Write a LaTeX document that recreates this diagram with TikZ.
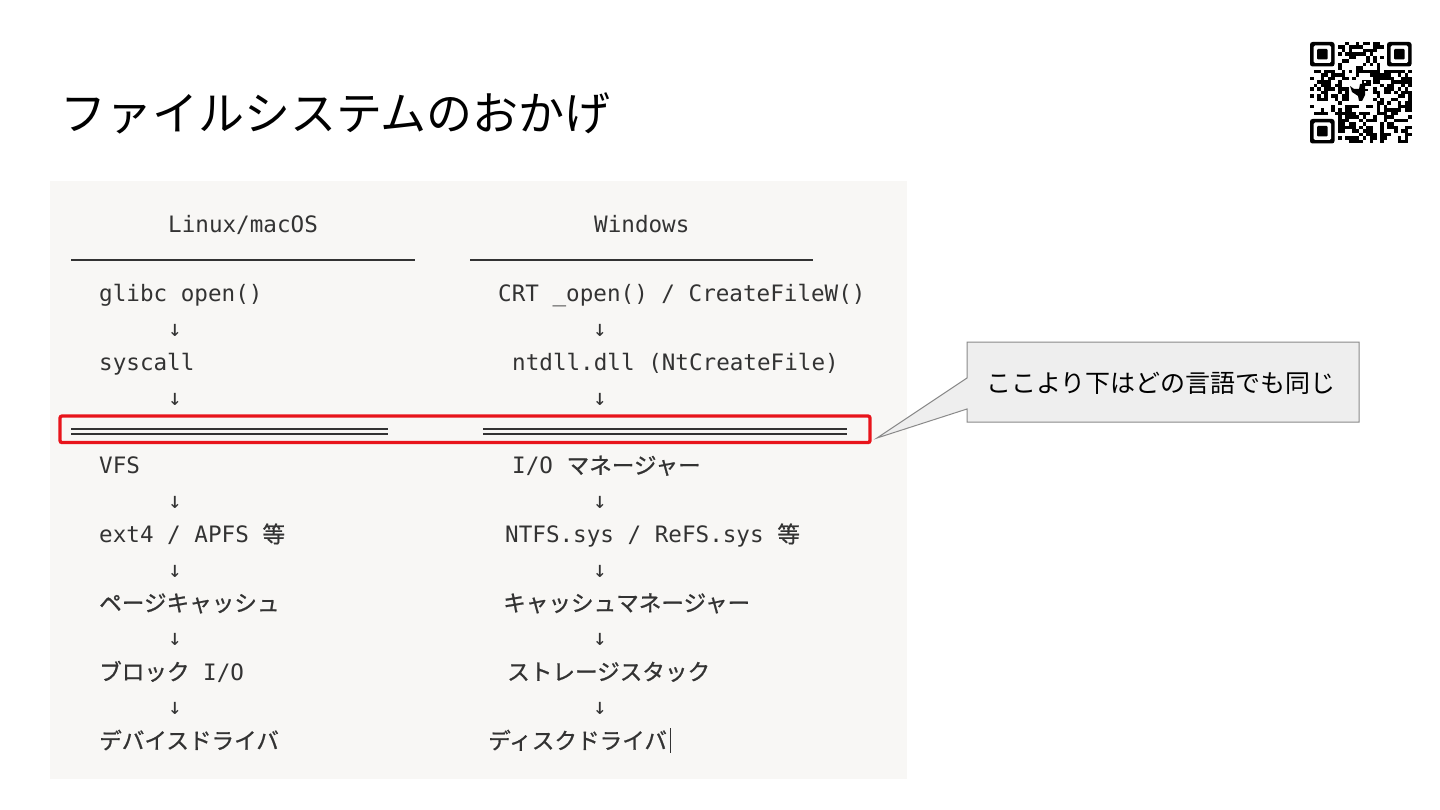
\documentclass[tikz,border=0pt]{standalone}
\usepackage{fontspec}
\setmonofont{DejaVu Sans Mono}
\newfontfamily\jp{Noto Sans CJK JP}
\newfontfamily\jpc[FakeBold=0.8]{Noto Sans CJK JP}
\newcommand\J[1]{{\jpc #1}}
\definecolor{codebg}{HTML}{F8F7F5}
\definecolor{codefg}{HTML}{333333}
\definecolor{hired}{HTML}{E8141B}
\definecolor{notebg}{HTML}{EEEEEE}
\definecolor{noteline}{HTML}{8A8A8A}
\tikzset{
  code/.style={inner sep=0pt, anchor=base west, text=codefg, font=\ttfamily\fontsize{22.6}{27}\selectfont},
  arr/.style={inner sep=0pt, anchor=base, text=codefg, font=\ttfamily\fontsize{22.6}{27}\selectfont},
  rule/.style={draw=codefg, line width=1.9pt},
  dbl/.style={draw=codefg, line width=1.8pt},
  qr/.style={fill=black},
}
\begin{document}
\begin{tikzpicture}[x=1pt,y=-1pt]
\useasboundingbox[fill=white] (0,0) rectangle (1440,810);
% title
\node[inner sep=0pt, anchor=base west, font=\jp\fontsize{46}{55}\selectfont] (title) at (60,131) {ファイルシステムのおかげ};
% code block background
\fill[codebg] (50,181) rectangle (907,779);
% headers
\node[code] (hl) at (168,233) {Linux/macOS};
\node[code] (hr) at (594,233) {Windows};
\draw[rule] (71,260) -- (415,260);
\draw[rule] (470,260) -- (813,260);
% left column
\node[code] (l1) at (99,301.8) {glibc open()};
\node[arr] (la1) at (175,336.2) {↓};
\node[code] (l2) at (99,370.6) {syscall};
\node[arr] (la2) at (175,405) {↓};
\node[code] (l3) at (99,473.8) {VFS};
\node[arr] (la3) at (175,508.2) {↓};
\node[code] (l4) at (99,542.6) {ext4 / APFS \J{等}};
\node[arr] (la4) at (175,577) {↓};
\node[code] (l5) at (99,611.4) {\J{ページキャッシュ}};
\node[arr] (la5) at (175,645.8) {↓};
\node[code] (l6) at (99,680.2) {\J{ブロック} I/O};
\node[arr] (la6) at (175,714.6) {↓};
\node[code] (l7) at (99,749) {\J{デバイスドライバ}};
% right column
\node[code] (r1) at (498,301.8) {CRT \_open() / CreateFileW()};
\node[arr] (ra1) at (600,336.2) {↓};
\node[code] (r2) at (512,370.6) {ntdll.dll (NtCreateFile)};
\node[arr] (ra2) at (600,405) {↓};
\node[code] (r3) at (512,473.8) {I/O \J{マネージャー}};
\node[arr] (ra3) at (600,508.2) {↓};
\node[code] (r4) at (505,542.6) {NTFS.sys / ReFS.sys \J{等}};
\node[arr] (ra4) at (600,577) {↓};
\node[code] (r5) at (503,611.4) {\J{キャッシュマネージャー}};
\node[arr] (ra5) at (600,645.8) {↓};
\node[code] (r6) at (507,680.2) {\J{ストレージスタック}};
\node[arr] (ra6) at (600,714.6) {↓};
\node[code] (r7) at (488,749) {\J{ディスクドライバ}};
\draw[codefg, line width=1pt] (670.5,728) -- (670.5,753);
% double rules
\draw[dbl] (71,429) -- (388,429);
\draw[dbl] (71,434) -- (388,434);
\draw[dbl] (483,429) -- (847,429);
\draw[dbl] (483,434) -- (847,434);
% red highlight
\node[draw=hired, line width=3.3pt, rounded corners=2pt, minimum width=810pt, minimum height=26.5pt, inner sep=0pt] (hl box) at (465,429.3) {};
% callout
\coordinate (tip) at (877,438);
\filldraw[fill=notebg, draw=noteline, line width=1pt] (967,342) -- (1359,342) -- (1359,422) -- (967,422) -- (967,409) -- (tip) -- (967,378) -- cycle;
\node[inner sep=0pt, font=\jp\fontsize{25}{30}\selectfont] (note) at (1161,383) {ここより下はどの言語でも同じ};
% QR code
\pgfmathsetseed{12345}
\def\qx{1310}\def\qy{42}\def\qm{3.5}
\foreach \i in {0,...,28}{
  \foreach \j in {0,...,28}{
    \pgfmathtruncatemacro\qskipit{((\i<8)&&(\j<8)) || ((\i>20)&&(\j<8)) || ((\i<8)&&(\j>20)) || ((\i>10)&&(\i<18)&&(\j>10)&&(\j<18))}
    \pgfmathtruncatemacro\qon{rnd<0.5}
    \ifnum\qskipit=0 \ifnum\qon=1
      \fill[qr] (\qx+\i*\qm,\qy+\j*\qm) rectangle ++(\qm,\qm);
    \fi\fi
  }
}
\foreach \fx/\fy in {0/0,22/0,0/22}{
  \fill[qr, rounded corners=2.5pt] (\qx+\fx*\qm,\qy+\fy*\qm) rectangle ++(7*\qm,7*\qm);
  \fill[white, rounded corners=1.5pt] (\qx+\fx*\qm+\qm,\qy+\fy*\qm+\qm) rectangle ++(5*\qm,5*\qm);
  \fill[qr, rounded corners=1pt] (\qx+\fx*\qm+2*\qm,\qy+\fy*\qm+2*\qm) rectangle ++(3*\qm,3*\qm);
}
% dino logo
\fill[qr] (1362,80) rectangle (1371,86);
\fill[qr] (1360,84) -- (1365,84) -- (1365,95) -- (1362,101) -- (1359,101) -- (1358,96) -- (1352,92) -- (1350,86) -- (1354,89) -- (1359,89) -- cycle;
\fill[qr] (1365,89) rectangle (1368,91);
\fill[white] (1364,81.5) rectangle (1365.5,83);
\end{tikzpicture}
\end{document}
